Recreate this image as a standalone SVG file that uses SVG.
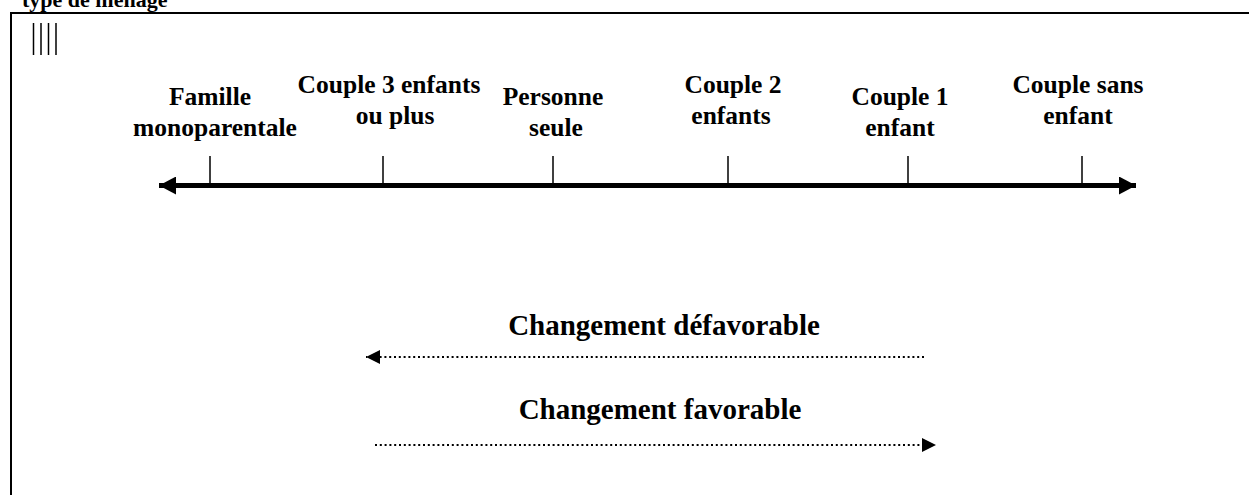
<svg xmlns="http://www.w3.org/2000/svg" width="1249" height="495" viewBox="0 0 1249 495">
<style>
text{font-family:"Liberation Serif","Times New Roman",serif;font-weight:bold;fill:#000;text-anchor:middle}
.lbl{font-size:25.5px}
.big{font-size:29px}
.tick{stroke:#000;stroke-width:1.5}
.dot{stroke:#000;stroke-width:2;stroke-dasharray:2 2.8;fill:none}
</style>
<defs>
<marker id="bigArrow" viewBox="0 0 17 18" refX="17" refY="9" markerWidth="17" markerHeight="18" markerUnits="userSpaceOnUse" orient="auto-start-reverse">
<path d="M0,0 L17,9 L0,18 Z" fill="#000"/>
</marker>
<marker id="smallArrow" viewBox="0 0 14 14" refX="14" refY="7" markerWidth="14" markerHeight="14" markerUnits="userSpaceOnUse" orient="auto-start-reverse">
<path d="M0,0 L14,7 L0,14 Z" fill="#000"/>
</marker>
</defs>
<rect width="1249" height="495" fill="#fff"/>
<text x="22" y="7" style="font-size:22px;text-anchor:start">type de ménage</text>
<rect x="11" y="13" width="1260" height="500" fill="none" stroke="#000" stroke-width="2"/>
<g id="marks">
<line class="tick" x1="33.5" y1="23" x2="33.5" y2="55"/>
<line class="tick" x1="41" y1="23" x2="41" y2="55"/>
<line class="tick" x1="48.5" y1="23" x2="48.5" y2="55"/>
<line class="tick" x1="56" y1="23" x2="56" y2="55"/>
</g>
<g id="connectors">
<line x1="159" y1="185.5" x2="1136" y2="185.5" stroke="#000" stroke-width="5" marker-start="url(#bigArrow)" marker-end="url(#bigArrow)"/>
<line class="tick" x1="210" y1="156" x2="210" y2="185"/>
<line class="tick" x1="383" y1="156" x2="383" y2="185"/>
<line class="tick" x1="553" y1="156" x2="553" y2="185"/>
<line class="tick" x1="728" y1="156" x2="728" y2="185"/>
<line class="tick" x1="908" y1="156" x2="908" y2="185"/>
<line class="tick" x1="1082" y1="156" x2="1082" y2="185"/>
<line class="dot" x1="924" y1="357" x2="366" y2="357" marker-end="url(#smallArrow)"/>
<line class="dot" x1="375" y1="445" x2="936" y2="445" marker-end="url(#smallArrow)"/>
</g>
<g id="n-famille"><text class="lbl" x="210" y="105">Famille</text><text class="lbl" x="215" y="136">monoparentale</text></g>
<g id="n-couple3"><text class="lbl" x="389" y="93">Couple 3 enfants</text><text class="lbl" x="395" y="124">ou plus</text></g>
<g id="n-personne"><text class="lbl" x="553" y="105">Personne</text><text class="lbl" x="556" y="136">seule</text></g>
<g id="n-couple2"><text class="lbl" x="733" y="93">Couple 2</text><text class="lbl" x="731" y="124">enfants</text></g>
<g id="n-couple1"><text class="lbl" x="900" y="105">Couple 1</text><text class="lbl" x="900" y="136">enfant</text></g>
<g id="n-couplesans"><text class="lbl" x="1078" y="93">Couple sans</text><text class="lbl" x="1078" y="124">enfant</text></g>
<g id="n-defavorable"><text class="big" x="664" y="335">Changement défavorable</text></g>
<g id="n-favorable"><text class="big" x="660" y="419">Changement favorable</text></g>
</svg>
